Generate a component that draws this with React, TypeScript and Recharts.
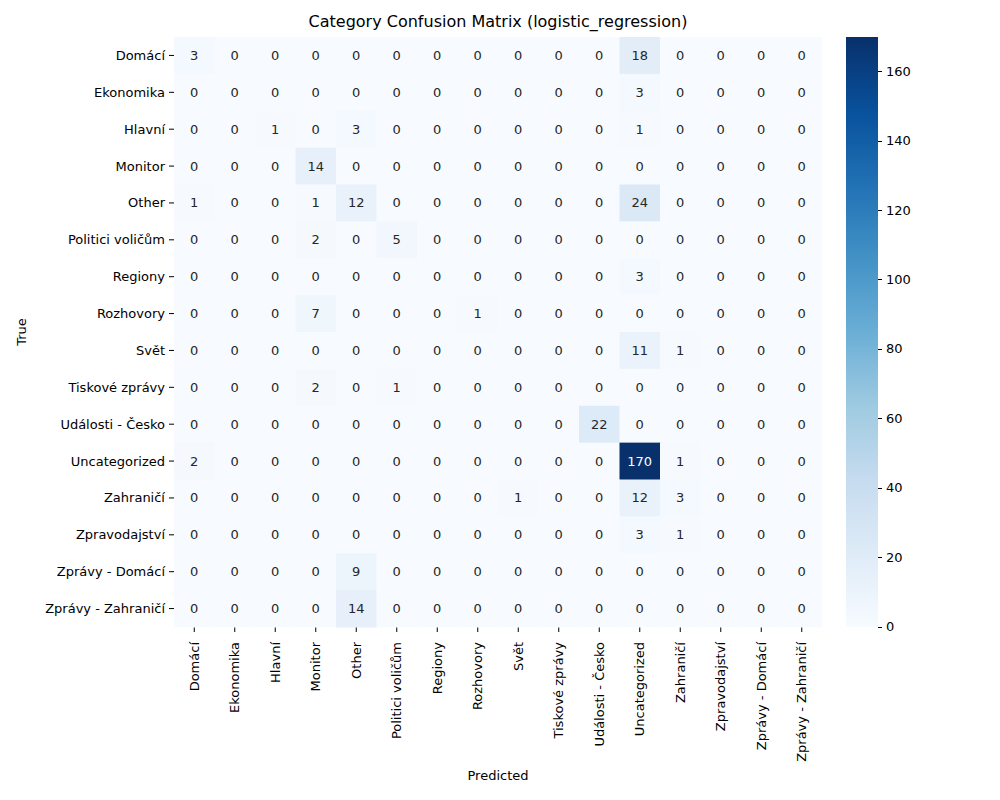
import { ScatterChart, Scatter, XAxis, YAxis } from 'recharts';

const categories = [
  'Domácí', 'Ekonomika', 'Hlavní', 'Monitor', 'Other', 'Politici voličům', 'Regiony', 'Rozhovory',
  'Svět', 'Tiskové zprávy', 'Události - Česko', 'Uncategorized', 'Zahraničí', 'Zpravodajství',
  'Zprávy - Domácí', 'Zprávy - Zahraničí',
];

const matrix = [
  [3, 0, 0, 0, 0, 0, 0, 0, 0, 0, 0, 18, 0, 0, 0, 0],
  [0, 0, 0, 0, 0, 0, 0, 0, 0, 0, 0, 3, 0, 0, 0, 0],
  [0, 0, 1, 0, 3, 0, 0, 0, 0, 0, 0, 1, 0, 0, 0, 0],
  [0, 0, 0, 14, 0, 0, 0, 0, 0, 0, 0, 0, 0, 0, 0, 0],
  [1, 0, 0, 1, 12, 0, 0, 0, 0, 0, 0, 24, 0, 0, 0, 0],
  [0, 0, 0, 2, 0, 5, 0, 0, 0, 0, 0, 0, 0, 0, 0, 0],
  [0, 0, 0, 0, 0, 0, 0, 0, 0, 0, 0, 3, 0, 0, 0, 0],
  [0, 0, 0, 7, 0, 0, 0, 1, 0, 0, 0, 0, 0, 0, 0, 0],
  [0, 0, 0, 0, 0, 0, 0, 0, 0, 0, 0, 11, 1, 0, 0, 0],
  [0, 0, 0, 2, 0, 1, 0, 0, 0, 0, 0, 0, 0, 0, 0, 0],
  [0, 0, 0, 0, 0, 0, 0, 0, 0, 0, 22, 0, 0, 0, 0, 0],
  [2, 0, 0, 0, 0, 0, 0, 0, 0, 0, 0, 170, 1, 0, 0, 0],
  [0, 0, 0, 0, 0, 0, 0, 0, 1, 0, 0, 12, 3, 0, 0, 0],
  [0, 0, 0, 0, 0, 0, 0, 0, 0, 0, 0, 3, 1, 0, 0, 0],
  [0, 0, 0, 0, 9, 0, 0, 0, 0, 0, 0, 0, 0, 0, 0, 0],
  [0, 0, 0, 0, 14, 0, 0, 0, 0, 0, 0, 0, 0, 0, 0, 0],
];

const colorTicks = [0, 20, 40, 60, 80, 100, 120, 140, 160];
const VMAX = 170;

const BLUES = ['#f7fbff', '#deebf7', '#c6dbef', '#9ecae1', '#6baed6', '#4292c6', '#2171b5', '#08519c', '#08306b'];

function hex(c: string) {
  return [1, 3, 5].map((i) => parseInt(c.slice(i, i + 2), 16));
}

function blues(v: number) {
  const t = Math.max(0, Math.min(1, v / VMAX)) * (BLUES.length - 1);
  const i = Math.min(Math.floor(t), BLUES.length - 2);
  const f = t - i;
  const a = hex(BLUES[i]);
  const b = hex(BLUES[i + 1]);
  const m = a.map((x, k) => Math.round(x + (b[k] - x) * f));
  return `rgb(${m[0]},${m[1]},${m[2]})`;
}

const PLOT = { left: 174, top: 37, right: 822, bottom: 627 };
const CW = (PLOT.right - PLOT.left) / 16;
const CH = (PLOT.bottom - PLOT.top) / 16;

const points = matrix.flatMap((row, i) => row.map((v, j) => ({ x: j + 0.5, y: i + 0.5, v })));
const centers = categories.map((_, i) => i + 0.5);

const font = 'DejaVu Sans, sans-serif';

function Cell(props: any) {
  const { cx, cy, payload } = props;
  const v = payload.v;
  return (
    <g>
      <rect x={cx - CW / 2} y={cy - CH / 2} width={CW + 0.5} height={CH + 0.5} fill={blues(v)} />
      <text x={cx} y={cy} dy={4.5} textAnchor="middle" fontSize={13} fontFamily={font}
        fill={v > 85 ? '#ffffff' : '#262626'}>{v}</text>
    </g>
  );
}

function XTick(props: any) {
  const { x, y, payload } = props;
  const label = categories[Math.round(payload.value - 0.5)];
  return (
    <text transform={`translate(${x},${y + 8}) rotate(-90)`} textAnchor="end" dy={4.5}
      fontSize={13} fontFamily={font} fill="#000">{label}</text>
  );
}

function YTick(props: any) {
  const { x, y, payload } = props;
  const label = categories[Math.round(payload.value - 0.5)];
  return (
    <text x={x - 2} y={y} dy={4.5} textAnchor="end" fontSize={13} fontFamily={font} fill="#000">{label}</text>
  );
}

export default function App() {
  const gradient = `linear-gradient(to top, ${BLUES.join(', ')})`;
  const cbTop = PLOT.top;
  const cbH = PLOT.bottom - PLOT.top;
  return (
    <div style={{ position: 'absolute', left: 0, top: 0, width: 1000, height: 800, background: '#fff', fontFamily: font }}>
      <ScatterChart width={1000} height={800}
        margin={{ left: 10, top: PLOT.top, right: 1000 - PLOT.right, bottom: 10 }}>
        <XAxis type="number" dataKey="x" domain={[0, 16]} ticks={centers} tick={<XTick />}
          interval={0} height={800 - PLOT.bottom - 10} axisLine={false} tickLine={{ stroke: '#000' }} tickSize={5} />
        <YAxis type="number" dataKey="y" domain={[0, 16]} reversed ticks={centers} tick={<YTick />}
          interval={0} width={PLOT.left - 10} axisLine={false} tickLine={{ stroke: '#000' }} tickSize={5} />
        <Scatter data={points} shape={<Cell />} isAnimationActive={false} />
      </ScatterChart>
      <div style={{ position: 'absolute', left: 0, right: 178, top: 12, textAlign: 'center', paddingLeft: 174, fontSize: 16 }}>
        Category Confusion Matrix (logistic_regression)
      </div>
      <div style={{ position: 'absolute', left: PLOT.left, width: PLOT.right - PLOT.left, top: 768, textAlign: 'center', fontSize: 13 }}>
        Predicted
      </div>
      <div style={{ position: 'absolute', left: 21, top: (PLOT.top + PLOT.bottom) / 2, fontSize: 13,
        transform: 'translate(-50%, -50%) rotate(-90deg)' }}>True</div>
      <div style={{ position: 'absolute', left: 846, top: cbTop, width: 32, height: cbH, background: gradient }} />
      {colorTicks.map((t) => {
        const y = cbTop + cbH * (1 - t / VMAX);
        return (
          <div key={t}>
            <div style={{ position: 'absolute', left: 878, top: y - 0.5, width: 4, height: 1, background: '#000' }} />
            <div style={{ position: 'absolute', left: 886, top: y - 8, fontSize: 13, lineHeight: '16px' }}>{t}</div>
          </div>
        );
      })}
    </div>
  );
}
